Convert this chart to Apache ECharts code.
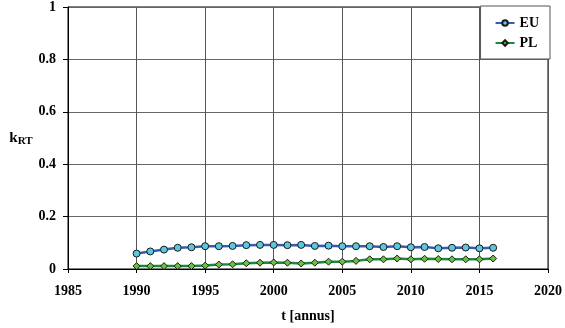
<!DOCTYPE html>
<html>
<head>
<meta charset="utf-8">
<script src="https://cdn.jsdelivr.net/npm/echarts@6/dist/echarts.min.js"></script>
<style>
  html, body { margin: 0; padding: 0; background: #fff; }
  #chart { width: 565px; height: 328px; }
</style>
</head>
<body>
<div id="chart"></div>
<script>
// Yearly k_RT values, 1990–2016
const years = [1990,1991,1992,1993,1994,1995,1996,1997,1998,1999,2000,2001,2002,2003,2004,2005,2006,2007,2008,2009,2010,2011,2012,2013,2014,2015,2016];
const euValues = [0.059,0.067,0.074,0.081,0.083,0.087,0.087,0.088,0.091,0.092,0.092,0.091,0.092,0.088,0.089,0.087,0.087,0.087,0.084,0.087,0.083,0.084,0.079,0.081,0.082,0.079,0.081];
const plValues = [0.011,0.011,0.011,0.011,0.011,0.013,0.017,0.018,0.022,0.024,0.025,0.024,0.021,0.024,0.028,0.028,0.031,0.037,0.037,0.040,0.037,0.039,0.038,0.037,0.037,0.037,0.040];
const seriesNames = ['EU', 'PL'];
const xTicks = [1985, 2020, 5];   // min, max, step
const yTicks = [0, 1, 0.2];

const FONT = '"Liberation Serif", "Times New Roman", serif';
const pairs = (xs, ys) => xs.map((x, i) => [x, ys[i]]);

const chart = echarts.init(document.getElementById('chart'), null, { renderer: 'canvas' });
chart.setOption({
  animation: false,
  backgroundColor: '#fff',
  textStyle: { fontFamily: FONT },
  grid: {
    left: 68, right: 15, top: 6, bottom: 59,
    show: true, borderColor: '#000', borderWidth: 1, backgroundColor: 'transparent'
  },
  legend: {
    right: 15, top: 6,
    orient: 'vertical',
    backgroundColor: '#fff',
    borderColor: '#555', borderWidth: 1,
    padding: [10, 11, 9, 14],
    itemWidth: 19, itemHeight: 7, itemGap: 6,
    textStyle: { fontFamily: FONT, fontWeight: 'bold', fontSize: 14, color: '#000', lineHeight: 14 },
    data: seriesNames
  },
  xAxis: {
    type: 'value',
    min: xTicks[0], max: xTicks[1], interval: xTicks[2],
    name: 't [annus]',
    nameLocation: 'middle', nameGap: 40,
    nameTextStyle: { fontFamily: FONT, fontWeight: 'bold', fontSize: 14, color: '#000' },
    axisLine: { show: true, onZero: false, lineStyle: { color: '#000', width: 1 } },
    axisTick: { show: true, inside: false, length: 4, lineStyle: { color: '#000' } },
    axisLabel: {
      fontFamily: FONT, fontWeight: 'bold', fontSize: 14, color: '#000', margin: 15,
      formatter: v => String(v)
    },
    splitLine: { show: true, lineStyle: { color: '#555', width: 1 } }
  },
  yAxis: {
    type: 'value',
    min: yTicks[0], max: yTicks[1], interval: yTicks[2],
    name: '{k|k}{s|RT}',
    nameLocation: 'middle', nameGap: 34, nameRotate: 0,
    nameTextStyle: {
      rich: {
        k: { fontFamily: FONT, fontWeight: 'bold', fontSize: 15, color: '#000' },
        s: { fontFamily: FONT, fontWeight: 'bold', fontSize: 11, color: '#000', verticalAlign: 'bottom', padding: [7, 0, 0, 0] }
      }
    },
    axisLine: { show: true, lineStyle: { color: '#000', width: 1 } },
    axisTick: { show: true, inside: false, length: 5, lineStyle: { color: '#000' } },
    axisLabel: {
      fontFamily: FONT, fontWeight: 'bold', fontSize: 14, color: '#000', margin: 12,
      formatter: v => String(+v.toFixed(1))
    },
    splitLine: { show: true, lineStyle: { color: '#666', width: 1 } }
  },
  series: [
    {
      name: seriesNames[0], type: 'line',
      data: pairs(years, euValues),
      symbol: 'circle', symbolSize: 7,
      lineStyle: { color: '#3a5bb5', width: 2.5 },
      itemStyle: { color: '#5cc8dc', borderColor: '#1a1a1a', borderWidth: 1 }
    },
    {
      name: seriesNames[1], type: 'line',
      data: pairs(years, plValues),
      symbol: 'diamond', symbolSize: 7,
      lineStyle: { color: '#1a8a3e', width: 2.5 },
      itemStyle: { color: '#6cc040', borderColor: '#1a1a1a', borderWidth: 1 }
    }
  ]
});
</script>
</body>
</html>
